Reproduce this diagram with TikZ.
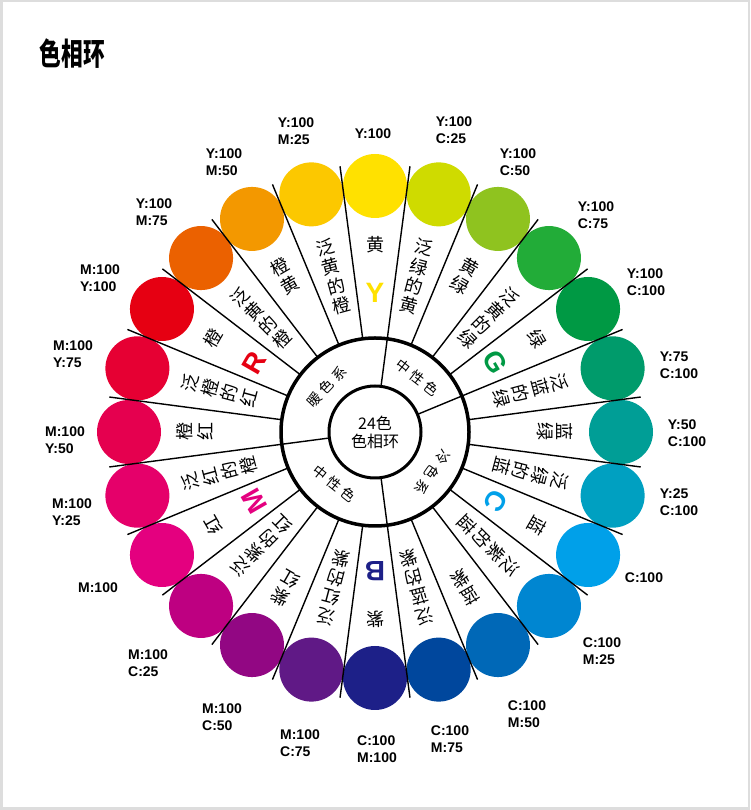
\documentclass[tikz,border=0pt]{standalone}
\usepackage{fontspec}
\usepackage{graphicx}
\setmainfont{Liberation Sans}
\newfontfamily\cjk{Noto Sans CJK SC}
\definecolor{framegray}{HTML}{DDDDDD}
\definecolor{h090}{HTML}{FFE100}
\definecolor{h075}{HTML}{CFDB00}
\definecolor{h060}{HTML}{8FC31F}
\definecolor{h045}{HTML}{22AC38}
\definecolor{h030}{HTML}{009944}
\definecolor{h015}{HTML}{009B6B}
\definecolor{h000}{HTML}{009E96}
\definecolor{h345}{HTML}{00A0C1}
\definecolor{h330}{HTML}{00A0E9}
\definecolor{h315}{HTML}{0086D1}
\definecolor{h300}{HTML}{0068B7}
\definecolor{h285}{HTML}{00479D}
\definecolor{h270}{HTML}{1D2088}
\definecolor{h255}{HTML}{601986}
\definecolor{h240}{HTML}{920783}
\definecolor{h225}{HTML}{BE0081}
\definecolor{h210}{HTML}{E4007F}
\definecolor{h195}{HTML}{E5006A}
\definecolor{h180}{HTML}{E5004F}
\definecolor{h165}{HTML}{E60033}
\definecolor{h150}{HTML}{E60012}
\definecolor{h135}{HTML}{EB6100}
\definecolor{h120}{HTML}{F39800}
\definecolor{h105}{HTML}{FCC800}
\definecolor{lY}{HTML}{FFE100}
\tikzset{
  divider/.style={line width=1.4pt, draw=black},
  ringline/.style={line width=3.5pt, draw=black},
  swatch/.style={circle, inner sep=0pt, minimum size=64pt, draw=none},
  cmyk/.style={font=\fontsize{14}{17}\selectfont\bfseries, align=left, inner sep=0pt},
  hue/.style={font=\cjk\fontsize{18}{20}\selectfont, inner sep=0pt},
  bigletter/.style={font=\fontsize{28}{28}\selectfont\bfseries, inner sep=0pt},
  family/.style={font=\cjk\fontsize{14}{16}\selectfont, inner sep=0pt},
}
\begin{document}
\begin{tikzpicture}[x=1pt,y=1pt]
\useasboundingbox (0,0) rectangle (750,810);
\fill[framegray] (0,0) rectangle (750,810);
\fill[white] (2.5,2.5) rectangle (747.5,807.5);
\node[inner sep=0pt, font=\cjk\bfseries\fontsize{31}{31}\selectfont] (title) at (72.5,756) {\scalebox{0.7}[1]{色相环}};
\begin{scope}[shift={(375,378)}]
\foreach \a/\col [count=\i] in {90/h090,75/h075,60/h060,45/h045,30/h030,15/h015,0/h000,-15/h345,-30/h330,-45/h315,-60/h300,-75/h285,-90/h270,-105/h255,-120/h240,-135/h225,-150/h210,-165/h195,180/h180,165/h165,150/h150,135/h135,120/h120,105/h105} {
  \node[swatch, fill=\col] (sw\i) at (\a:246) {};
}
\foreach \k in {0,...,23} {
  \draw[divider] ({7.5+15*\k}:94) -- ({7.5+15*\k}:268);
}
\draw[ringline] (0,0) circle[radius=94];
\draw[line width=3pt] (0,0) circle[radius=46];
\foreach \a in {82.5,22.5,-82.5,187.5} { \draw[divider] (\a:47) -- (\a:93); }
\foreach \a/\r/\chars [count=\i] in {90/187/{黄}, 75/191/{泛,绿,的,黄}, 60/190/{黄,绿}, 45/191/{泛,黄,的,绿}, 30/187/{绿}, 15/191/{泛,蓝,的,绿}, 0/190/{蓝,绿}, -15/191/{泛,绿,的,蓝}, -30/187/{蓝}, -45/191/{泛,紫,的,蓝}, -60/190/{蓝,紫}, -75/191/{泛,蓝,的,紫}, -90/187/{紫}, -105/191/{泛,红,的,紫}, -120/190/{紫,红}, -135/191/{泛,紫,的,红}, -150/187/{红}, -165/191/{泛,红,的,橙}, 180/190/{橙,红}, 165/191/{泛,橙,的,红}, 150/187/{橙}, 135/191/{泛,黄,的,橙}, 120/190/{橙,黄}, 105/191/{泛,黄,的,橙}} {
  \foreach \ch [count=\j] in \chars {
    \node[hue, rotate=\a-90] (hn\i-\j) at (\a:{\r-20*(\j-1)}) {\ch};
  }
}
\node[bigletter, text=lY] (LY) at (90:139) {Y};
\node[bigletter, text=h030, rotate=-60] (LG) at (30:139) {G};
\node[bigletter, text=h330, rotate=-120] (LC) at (-30:139) {C};
\node[bigletter, text=h270, rotate=180] (LB) at (-90:139) {B};
\node[bigletter, text=h210, rotate=120] (LM) at (210:139) {M};
\node[bigletter, text=h150, rotate=60] (LR) at (150:139) {R};
\node[family, rotate=47] (fw) at (137:66) {暖\hspace{4pt}色\hspace{4pt}系};
\node[family, rotate=-38] (fn1) at (52:69) {中\hspace{4pt}性\hspace{4pt}色};
\node[family, rotate=-125] (fc) at (-35:70) {冷\hspace{4pt}色\hspace{4pt}系};
\node[family, rotate=-38.5] (fn2) at (231.5:66) {中\hspace{4pt}性\hspace{4pt}色};
\node[font=\cjk\fontsize{16}{18}\selectfont, align=center, inner sep=0pt] (ctr) at (0,0) {24色\\色相环};
\end{scope}
\node[cmyk] (k01) at (373,676) {Y:100};
\node[cmyk] (k02) at (454,680) {Y:100\\C:25};
\node[cmyk] (k03) at (518,648) {Y:100\\C:50};
\node[cmyk] (k04) at (596,595) {Y:100\\C:75};
\node[cmyk] (k05) at (646,528) {Y:100\\C:100};
\node[cmyk] (k06) at (679,445) {Y:75\\C:100};
\node[cmyk] (k07) at (687,377) {Y:50\\C:100};
\node[cmyk] (k08) at (679,308) {Y:25\\C:100};
\node[cmyk] (k09) at (644,232) {C:100};
\node[cmyk] (k10) at (602,159) {C:100\\M:25};
\node[cmyk] (k11) at (527,96) {C:100\\M:50};
\node[cmyk] (k12) at (450,71) {C:100\\M:75};
\node[cmyk] (k13) at (377,61) {C:100\\M:100};
\node[cmyk] (k14) at (300,67) {M:100\\C:75};
\node[cmyk] (k15) at (222,93) {M:100\\C:50};
\node[cmyk] (k16) at (148,147) {M:100\\C:25};
\node[cmyk] (k17) at (98,222) {M:100};
\node[cmyk] (k18) at (72,298) {M:100\\Y:25};
\node[cmyk] (k19) at (65,370) {M:100\\Y:50};
\node[cmyk] (k20) at (73,456) {M:100\\Y:75};
\node[cmyk] (k21) at (100,532) {M:100\\Y:100};
\node[cmyk] (k22) at (154,598) {Y:100\\M:75};
\node[cmyk] (k23) at (224,648) {Y:100\\M:50};
\node[cmyk] (k24) at (296,679) {Y:100\\M:25};
\end{tikzpicture}
\end{document}
